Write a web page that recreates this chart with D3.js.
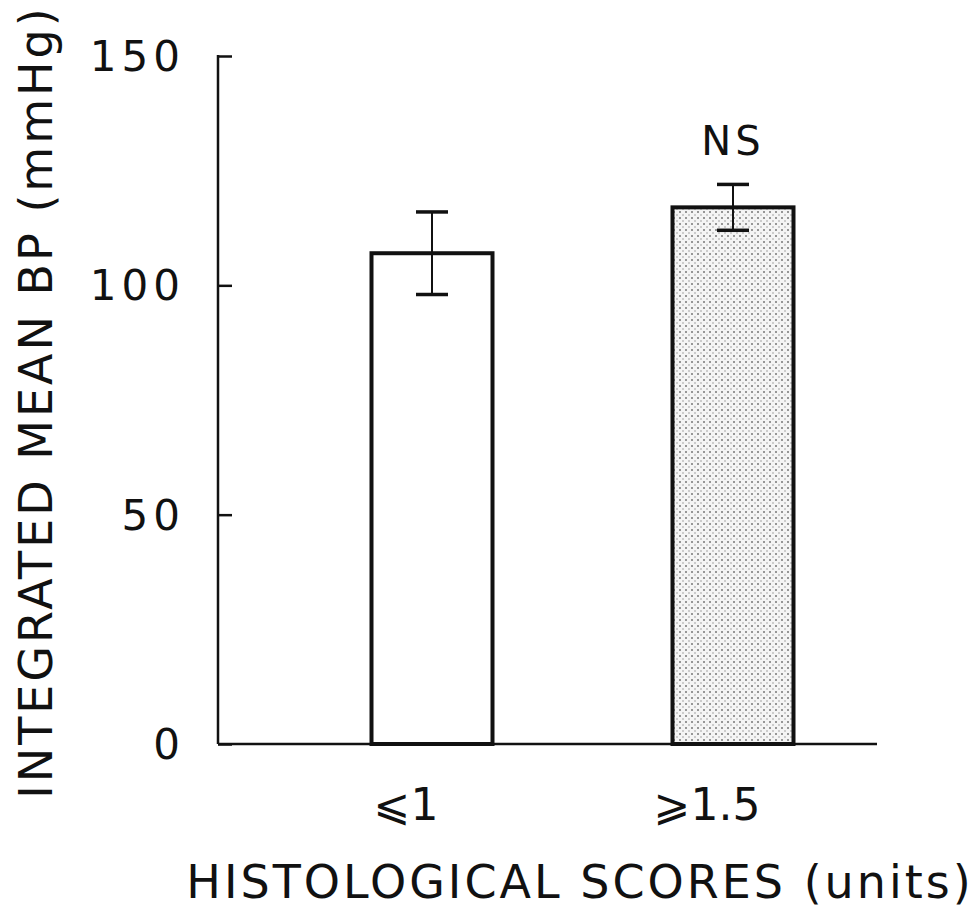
<!DOCTYPE html>
<html>
<head>
<meta charset="utf-8">
<script src="https://cdn.jsdelivr.net/npm/d3@7"></script>
<style>
  body { margin: 0; background: #fff; }
  text { font-family: "DejaVu Sans", sans-serif; fill: #111; }
</style>
</head>
<body>
<div id="chart"></div>
<script>
var w = 974, h = 911;

// data
var categories = ["\u2A7D1", "\u2A7E1.5"];
var means = [107, 117];
var sems = [9, 5];
var fills = ["white", "dots"];
var yTicks = [0, 50, 100, 150];
var notes = ["", "NS"];

var svg = d3.select("#chart")
    .append("svg")
      .attr("width", w)
      .attr("height", h);

var defs = svg.append("defs");
var pat = defs.append("pattern")
    .attr("id", "dots")
    .attr("width", 6).attr("height", 6)
    .attr("patternUnits", "userSpaceOnUse");
pat.append("rect").attr("width", 6).attr("height", 6).attr("fill", "#f4f4f4");
pat.append("circle").attr("cx", 2).attr("cy", 2).attr("r", 1).attr("fill", "#777");
pat.append("circle").attr("cx", 5).attr("cy", 5).attr("r", 0.8).attr("fill", "#999");

var x0 = 218, x1 = 877, yTop = 56, yBot = 744;

var y = d3.scaleLinear().domain([0, 150]).range([yBot, yTop]);
// bar centres
var x = d3.scalePoint().domain(categories).range([432, 733]);

// y axis, ticks pointing inward
var yAxis = d3.axisRight(y).tickValues(yTicks).tickSize(14).tickFormat("");
var gy = svg.append("g").attr("transform", "translate(" + x0 + ",0)").call(yAxis);
gy.select(".domain").remove();
gy.selectAll("line").attr("stroke", "#111").attr("stroke-width", 2.5);
svg.append("line")
    .attr("x1", x0).attr("x2", x0)
    .attr("y1", y(150) - 1).attr("y2", yBot)
    .attr("stroke", "#111").attr("stroke-width", 2.5);

svg.selectAll(".ylab")
  .data(yTicks)
  .enter().append("text")
    .attr("class", "ylab")
    .attr("x", 185)
    .attr("y", function(d) { return y(d); })
    .attr("dy", "0.36em")
    .attr("text-anchor", "end")
    .attr("font-size", 42)
    .attr("letter-spacing", 5)
    .text(function(d) { return d; });

// x axis line
svg.append("line")
    .attr("x1", x0).attr("x2", x1)
    .attr("y1", yBot).attr("y2", yBot)
    .attr("stroke", "#111").attr("stroke-width", 2.5);

// bars
var bw = 121;
svg.selectAll(".bar")
  .data(categories)
  .enter().append("rect")
    .attr("class", "bar")
    .attr("x", function(d) { return x(d) - bw / 2; })
    .attr("y", function(d, i) { return y(means[i]); })
    .attr("width", bw)
    .attr("height", function(d, i) { return yBot - y(means[i]); })
    .attr("fill", function(d, i) { return fills[i] == "dots" ? "url(#dots)" : "white"; })
    .attr("stroke", "#111")
    .attr("stroke-width", 4);

// error bars
var cap = 16;
categories.forEach(function(c, i) {
  var cx = x(c);
  svg.append("line")
      .attr("x1", cx).attr("x2", cx)
      .attr("y1", y(means[i] + sems[i])).attr("y2", y(means[i] - sems[i]))
      .attr("stroke", "#111").attr("stroke-width", 2);
  [means[i] + sems[i], means[i] - sems[i]].forEach(function(v) {
    svg.append("line")
        .attr("x1", cx - cap).attr("x2", cx + cap)
        .attr("y1", y(v)).attr("y2", y(v))
        .attr("stroke", "#111").attr("stroke-width", 3.5);
  });
  if (notes[i]) {
    svg.append("text")
        .attr("x", cx).attr("y", 155)
        .attr("text-anchor", "middle")
        .attr("font-size", 40)
        .attr("letter-spacing", 4)
        .text(notes[i]);
  }
  svg.append("text")
      .attr("x", cx - 26).attr("y", 820)
      .attr("text-anchor", "middle")
      .attr("font-size", 44)
      .text(c);
});

// axis titles
svg.append("text")
    .attr("x", 580).attr("y", 898)
    .attr("text-anchor", "middle")
    .attr("font-size", 46)
    .attr("letter-spacing", 3)
    .text("HISTOLOGICAL SCORES (units)");

svg.append("text")
    .attr("transform", "translate(52,402) rotate(-90)")
    .attr("text-anchor", "middle")
    .attr("font-size", 46)
    .attr("letter-spacing", 3)
    .text("INTEGRATED MEAN BP (mmHg)");
</script>
</body>
</html>
